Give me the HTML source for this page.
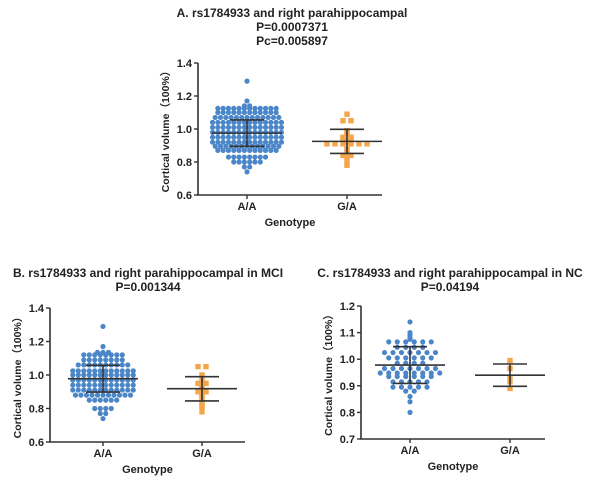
<!DOCTYPE html>
<html><head><meta charset="utf-8"><style>
html,body{margin:0;padding:0;background:#fff;}
svg text{font-family:"Liberation Sans",Arial,sans-serif;font-weight:bold;fill:#222;}
</style></head><body>
<svg id="chart" width="600" height="476" viewBox="0 0 600 476" xmlns="http://www.w3.org/2000/svg">
<text x="292" y="17" font-size="12" text-anchor="middle">A. rs1784933 and right parahippocampal</text>
<text x="292" y="31" font-size="12" text-anchor="middle">P=0.0007371</text>
<text x="292" y="45" font-size="12" text-anchor="middle">Pc=0.005897</text>
<text x="148" y="277" font-size="12" text-anchor="middle">B. rs1784933 and right parahippocampal in MCI</text>
<text x="148" y="291" font-size="12" text-anchor="middle">P=0.001344</text>
<text x="450" y="277" font-size="12" text-anchor="middle">C. rs1784933 and right parahippocampal in NC</text>
<text x="450" y="291" font-size="12" text-anchor="middle">P=0.04194</text>
</svg>
<script>
const categories = ["A/A", "G/A"];
const ticksA = [0.6, 0.8, 1.0, 1.2, 1.4];
const ticksC = [0.7, 0.8, 0.9, 1.0, 1.1, 1.2];
const aAA = [1.29,1.17,1.14,1.14,
1.125,1.125,1.125,1.125,1.125,1.125,1.125,1.125,1.125,1.125,1.125,1.125,
1.10,1.10,1.10,1.10,1.10,1.10,1.10,1.10,1.10,1.10,1.10,1.10,
1.07,1.07,1.07,1.07,1.07,1.07,1.07,1.07,1.07,1.07,1.07,1.07,1.07,
1.04,1.04,1.04,1.04,1.04,1.04,1.04,1.04,1.04,1.04,1.04,1.04,1.04,1.04,
1.01,1.01,1.01,1.01,1.01,1.01,1.01,1.01,1.01,1.01,1.01,1.01,1.01,1.01,
0.98,0.98,0.98,0.98,0.98,0.98,0.98,0.98,0.98,0.98,0.98,0.98,0.98,0.98,
0.95,0.95,0.95,0.95,0.95,0.95,0.95,0.95,0.95,0.95,0.95,0.95,0.95,0.95,
0.92,0.92,0.92,0.92,0.92,0.92,0.92,0.92,0.92,0.92,0.92,0.92,0.92,0.92,
0.895,0.895,0.895,0.895,0.895,0.895,0.895,0.895,0.895,0.895,0.895,0.895,0.895,
0.87,0.87,0.87,0.87,0.87,0.87,0.87,0.87,0.87,0.87,0.87,0.87,
0.83,0.83,0.83,0.83,0.83,0.83,0.83,0.83,
0.80,0.80,0.80,0.80,0.80,0.80,0.77,0.77,0.74];
const aGA = [1.09,1.05,1.05,0.99,0.98,0.97,0.95,0.95,0.94,0.94,0.93,0.92,0.91,0.91,0.91,0.91,0.91,0.91,0.88,0.87,0.86,0.84,0.84,0.83,0.80,0.78];
const aStats = [[0.975,1.055,0.895],[0.925,0.998,0.852]];
const bAA = [1.29,1.17,1.135,1.135,1.135,
1.12,1.12,1.12,1.12,1.12,1.12,1.12,1.12,
1.09,1.09,1.09,1.09,1.09,1.09,1.09,1.09,
1.06,1.06,1.06,1.06,1.06,1.06,1.06,1.06,1.06,1.06,
1.025,1.025,1.025,1.025,1.025,1.025,1.025,1.025,1.025,1.025,1.025,1.025,
1.00,1.00,1.00,1.00,1.00,1.00,1.00,1.00,1.00,1.00,1.00,1.00,
0.97,0.97,0.97,0.97,0.97,0.97,0.97,0.97,0.97,0.97,0.97,0.97,
0.94,0.94,0.94,0.94,0.94,0.94,0.94,0.94,0.94,0.94,0.94,0.94,
0.91,0.91,0.91,0.91,0.91,0.91,0.91,0.91,0.91,0.91,0.91,0.91,
0.88,0.88,0.88,0.88,0.88,0.88,0.88,0.88,0.88,0.88,0.88,
0.85,0.85,0.85,0.85,0.85,0.85,0.80,0.80,0.80,0.80,0.77,0.77,0.74];
const bGA = [1.05,1.05,1.00,0.98,0.96,0.95,0.95,0.93,0.92,0.91,0.90,0.90,0.89,0.88,0.86,0.84,0.82,0.81,0.78];
const bStats = [[0.978,1.058,0.898],[0.918,0.99,0.845]];
const cAA = [1.14,1.10,1.09,1.08,1.075,
1.065,1.065,1.065,1.065,1.065,1.065,
1.045,1.045,1.045,1.045,
1.025,1.025,1.025,1.025,1.025,1.025,1.025,
1.005,1.005,1.005,1.005,1.005,1.005,
0.985,0.985,0.985,0.985,
0.965,0.965,0.965,0.965,0.965,0.965,0.965,
0.948,0.948,0.948,0.948,0.948,0.948,0.948,0.948,
0.935,0.935,0.935,0.935,0.935,0.935,
0.915,0.915,0.915,0.915,0.915,
0.895,0.895,0.895,0.895,0.895,
0.88,0.88,0.86,0.84,0.80];
const cGA = [0.995,0.965,0.93,0.915,0.89];
const cStats = [[0.978,1.047,0.909],[0.94,0.982,0.898]];

const NS = "http://www.w3.org/2000/svg";
const svg = document.getElementById("chart");
function mk(tag, attrs, parent) {
  const e = document.createElementNS(NS, tag);
  for (const k in attrs) e.setAttribute(k, attrs[k]);
  (parent || svg).appendChild(e);
  return e;
}
function panel(id, cfg, ticks, aa, ga, stats) {
  const g = mk("g", {});
  
  
  const lo = ticks[0], hi = ticks[ticks.length - 1];
  const y = v => cfg.yBot - (v - lo) / (hi - lo) * (cfg.yBot - cfg.yTop);
  const xs = [cfg.x0, cfg.x1];
  const ax = mk("path", {d: `M${cfg.ax},${cfg.yTop} V${cfg.yBot} H${cfg.axEnd}`, stroke: "#333", "stroke-width": 1.6, fill: "none"}, g);
  
  
  ticks.forEach(t => {
    mk("line", {x1: cfg.ax - 4, x2: cfg.ax, y1: y(t), y2: y(t), stroke: "#333", "stroke-width": 1.4}, g);
    const tl = mk("text", {x: cfg.ax - 6, y: y(t) + 4, "font-size": 11, "text-anchor": "end"}, g);
    tl.textContent = t.toFixed(1);
    
    
  });
  categories.forEach((c, i) => {
    mk("line", {x1: xs[i], x2: xs[i], y1: cfg.yBot, y2: cfg.yBot + 4, stroke: "#333", "stroke-width": 1.4}, g);
    const cl = mk("text", {x: xs[i], y: cfg.yBot + 15, "font-size": 11, "text-anchor": "middle"}, g);
    cl.textContent = c;
    
    
  });
  const xt = mk("text", {x: (cfg.ax + cfg.axEnd) / 2, y: cfg.yBot + 31, "font-size": 11, "text-anchor": "middle"}, g);
  xt.textContent = "Genotype";
  
  
  const cy = (cfg.yTop + cfg.yBot) / 2;
  const yt = mk("text", {x: 0, y: 0, "font-size": 10.5, "text-anchor": "middle", transform: `translate(${cfg.ax - 29},${cy}) rotate(-90)`}, g);
  yt.textContent = "Cortical volume（100%）";
  
  
  [aa, ga].forEach((vals, gi) => {
    const rows = {};
    vals.forEach(v => { const r = v.toFixed(3); (rows[r] = rows[r] || []).push(v); });
    const sp = gi === 0 ? cfg.spA : cfg.spG;
    Object.values(rows).forEach(arr => {
      const n = arr.length;
      arr.forEach((v, i) => {
        const dx = (i - (n - 1) / 2) * sp;
        let p;
        if (gi === 0) {
          p = mk("circle", {cx: xs[0] + dx, cy: y(v), r: 2.6, fill: "#4a86c8"}, g);
          
        } else {
          p = mk("rect", {x: xs[1] + dx - 2.7, y: y(v) - 2.7, width: 5.4, height: 5.4, fill: "#f5a54a"}, g);
          
        }
        
      });
    });
  });
  stats.forEach((s, i) => {
    const x = xs[i];
    const d = `M${x-35},${y(s[0])} H${x+35} M${x-17},${y(s[1])} H${x+17} M${x-17},${y(s[2])} H${x+17} M${x},${y(s[1])} V${y(s[2])}`;
    const e = mk("path", {d: d, stroke: "#333", "stroke-width": 1.6, fill: "none"}, g);
    
    
  });
}
panel("panel-a", {ax: 198, axEnd: 382, yTop: 63, yBot: 195, x0: 247, x1: 347, spA: 5.3, spG: 8}, ticksA, aAA, aGA, aStats);
panel("panel-b", {ax: 50, axEnd: 245, yTop: 308, yBot: 442, x0: 103, x1: 202, spA: 5.5, spG: 8}, ticksA, bAA, bGA, bStats);
panel("panel-c", {ax: 361, axEnd: 545, yTop: 306, yBot: 439, x0: 410, x1: 510, spA: 8.5, spG: 8}, ticksC, cAA, cGA, cStats);
</script>
</body></html>
